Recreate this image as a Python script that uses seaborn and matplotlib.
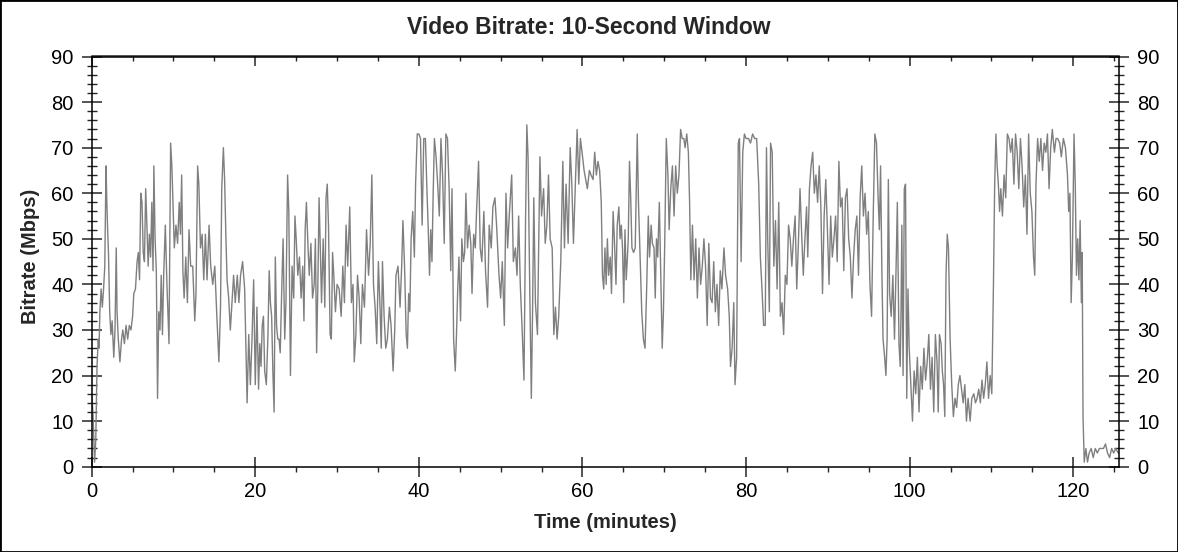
import numpy as np
import pandas as pd
import matplotlib
matplotlib.use("Agg")
import matplotlib.pyplot as plt
from matplotlib.patches import Rectangle
from matplotlib.ticker import MultipleLocator
import seaborn as sns

# ---- data: (minutes, Mbps), in blocks ----
minutes_a = [0.0, 0.15, 0.35, 0.5, 0.65, 0.8, 0.9, 1.0, 1.15, 1.3, 1.45, 1.6, 1.75, 1.85, 1.95, 2.05, 2.2, 2.35, 2.5, 2.7,
             2.85, 3.0, 3.1, 3.25, 3.45, 3.65, 3.8, 4.0, 4.2, 4.4, 4.6, 4.8, 5.0, 5.15, 5.35, 5.55, 5.7, 5.85, 6.0, 6.15,
             6.3, 6.45, 6.6, 6.75, 6.9, 7.05, 7.2, 7.35, 7.5, 7.6, 7.75, 7.9, 8.05, 8.2, 8.35, 8.5, 8.65, 8.8, 9.0, 9.2,
             9.45, 9.65, 9.8, 9.95, 10.1, 10.3, 10.5, 10.7, 10.85, 11.0, 11.15, 11.3, 11.5, 11.7, 11.9, 12.1, 12.35, 12.6, 12.75, 12.95,
             13.1, 13.3, 13.5, 13.7, 13.9, 14.1, 14.35, 14.55, 14.8, 15.05, 15.3, 15.55, 15.75, 15.9, 16.1, 16.25, 16.4, 16.55, 16.75, 16.95,
             17.15, 17.35, 17.55, 17.8, 18.0, 18.2, 18.45, 18.7, 19.0, 19.2, 19.4, 19.6, 19.8, 20.0]
mbps_a = [16, 12, 1, 6, 22, 28, 26, 34, 39, 35, 39, 44, 66, 58, 52, 47, 34, 29, 32, 24,
          30, 48, 34, 28, 23, 28, 30, 27, 31, 28, 31, 30, 33, 38, 39, 45, 47, 41, 60, 58,
          47, 45, 61, 53, 44, 51, 46, 58, 43, 66, 50, 43, 15, 34, 30, 42, 29, 42, 53, 40,
          27, 71, 66, 57, 48, 53, 49, 58, 51, 64, 43, 37, 46, 36, 52, 44, 44, 32, 38, 66,
          62, 48, 51, 41, 51, 41, 53, 44, 40, 44, 33, 23, 35, 61, 70, 63, 51, 41, 37, 30,
          36, 42, 36, 42, 36, 42, 45, 39, 14, 29, 18, 28, 41, 18]

minutes_b = [20.2, 20.4, 20.55, 20.7, 20.85, 21.0, 21.15, 21.35, 21.55, 21.7, 21.85, 22.0, 22.15, 22.3, 22.45, 22.6, 22.75, 22.9, 23.05, 23.25,
             23.4, 23.6, 23.75, 23.95, 24.1, 24.3, 24.5, 24.7, 24.85, 25.0, 25.2, 25.4, 25.6, 25.8, 25.95, 26.1, 26.25, 26.45, 26.6, 26.8,
             27.0, 27.2, 27.35, 27.5, 27.65, 27.8, 27.95, 28.1, 28.3, 28.5, 28.65, 28.8, 28.95, 29.15, 29.3, 29.45, 29.6, 29.8, 30.0, 30.25,
             30.5, 30.7, 30.9, 31.1, 31.3, 31.55, 31.75, 31.95, 32.1, 32.3, 32.5, 32.7, 32.9, 33.1, 33.35, 33.6, 33.85, 34.05, 34.25, 34.45,
             34.65, 34.85, 35.05, 35.25, 35.4, 35.55, 35.75, 35.95, 36.15, 36.4, 36.6, 36.85, 37.05, 37.2, 37.45, 37.7, 37.9, 38.05, 38.25, 38.45,
             38.6, 38.75, 38.9, 39.05, 39.25, 39.45, 39.6, 39.8, 40.0, 40.2, 40.4, 40.6, 40.8]
mbps_b = [35, 17, 27, 22, 31, 33, 21, 18, 29, 43, 36, 33, 21, 12, 46, 31, 28, 28, 25, 40,
          50, 28, 36, 64, 56, 20, 44, 37, 55, 50, 42, 46, 37, 44, 32, 52, 58, 48, 42, 49,
          37, 40, 50, 25, 40, 59, 48, 36, 50, 35, 59, 62, 53, 29, 28, 47, 42, 34, 40, 39,
          33, 44, 36, 53, 44, 57, 36, 40, 23, 29, 42, 37, 27, 40, 35, 52, 42, 49, 64, 40,
          35, 27, 45, 35, 26, 45, 33, 26, 28, 35, 31, 21, 30, 42, 44, 35, 44, 54, 44, 29,
          26, 38, 34, 50, 56, 46, 62, 73, 73, 72, 53, 72, 72]

minutes_c = [41.0, 41.15, 41.3, 41.45, 41.6, 41.75, 41.9, 42.1, 42.3, 42.5, 42.7, 42.9, 43.1, 43.3, 43.5, 43.7, 43.9, 44.05, 44.25, 44.45,
             44.6, 44.75, 44.9, 45.1, 45.25, 45.45, 45.6, 45.75, 45.95, 46.15, 46.35, 46.5, 46.7, 46.9, 47.05, 47.3, 47.5, 47.7, 47.95, 48.15,
             48.4, 48.6, 48.85, 49.05, 49.3, 49.5, 49.8, 50.0, 50.2, 50.45, 50.65, 50.85, 51.05, 51.35, 51.55, 51.8, 52.0, 52.2, 52.4, 52.65,
             52.85, 53.05, 53.2, 53.35, 53.55, 53.75, 53.9, 54.05, 54.25, 54.5, 54.8, 55.0, 55.25, 55.45, 55.65, 55.85, 56.05, 56.3, 56.5, 56.7,
             56.9, 57.1, 57.35, 57.6, 57.8, 58.0, 58.25, 58.5, 58.7, 58.9, 59.1, 59.35, 59.55, 59.75, 59.95, 60.2, 60.4, 60.6, 60.85, 61.05,
             61.3, 61.5, 61.7, 61.9, 62.1]
mbps_c = [60, 52, 42, 52, 45, 60, 72, 68, 62, 55, 72, 64, 49, 73, 72, 61, 43, 61, 28, 21,
          29, 39, 46, 32, 50, 45, 47, 60, 48, 53, 49, 38, 51, 48, 56, 67, 48, 45, 56, 43,
          35, 53, 48, 57, 59, 53, 42, 37, 45, 31, 60, 48, 55, 64, 45, 48, 42, 55, 40, 29,
          19, 55, 75, 68, 40, 15, 34, 59, 36, 29, 68, 55, 61, 49, 53, 64, 50, 48, 29, 35,
          28, 33, 45, 67, 48, 62, 49, 70, 62, 49, 60, 74, 62, 72, 69, 65, 63, 61, 65, 64,
          63, 69, 64, 67, 65]

minutes_d = [62.3, 62.45, 62.6, 62.75, 62.9, 63.05, 63.2, 63.4, 63.55, 63.75, 63.9, 64.1, 64.25, 64.45, 64.6, 64.75, 64.9, 65.05, 65.2, 65.35,
             65.5, 65.6, 65.75, 65.9, 66.05, 66.25, 66.45, 66.7, 66.85, 67.05, 67.25, 67.45, 67.65, 67.85, 68.05, 68.2, 68.4, 68.55, 68.75, 68.9,
             69.05, 69.2, 69.4, 69.6, 69.75, 69.9, 70.05, 70.25, 70.45, 70.6, 70.8, 71.0, 71.2, 71.4, 71.6, 71.8, 72.0, 72.2, 72.4, 72.55,
             72.75, 72.95, 73.1, 73.25, 73.45, 73.65, 73.85, 74.05, 74.25, 74.45, 74.65, 74.85, 75.05, 75.25, 75.45, 75.65, 75.85, 76.05, 76.25, 76.45,
             76.65, 76.85, 77.05, 77.3, 77.5, 77.75, 77.95, 78.1, 78.3, 78.5, 78.65, 78.85, 79.05, 79.2, 79.4, 79.6, 79.8, 80.0, 80.3, 80.55,
             80.8, 81.05, 81.3, 81.55, 81.75, 81.95, 82.15, 82.35, 82.5, 82.65, 82.85, 83.0, 83.2, 83.4]
mbps_d = [58, 42, 39, 48, 40, 50, 42, 46, 38, 56, 50, 40, 53, 57, 50, 53, 48, 36, 52, 41,
          46, 50, 67, 59, 48, 47, 48, 73, 58, 46, 34, 28, 26, 39, 55, 46, 53, 49, 48, 37,
          50, 46, 58, 40, 26, 34, 48, 72, 64, 52, 61, 66, 55, 66, 60, 64, 74, 72, 72, 70,
          73, 69, 58, 41, 53, 41, 50, 37, 48, 40, 44, 50, 44, 31, 49, 37, 36, 45, 34, 40,
          31, 43, 39, 48, 42, 39, 33, 22, 26, 36, 18, 24, 71, 72, 45, 69, 73, 72, 72, 71,
          73, 72, 72, 62, 46, 39, 31, 31, 70, 50, 34, 71, 69, 44]

minutes_e = [83.6, 83.8, 84.0, 84.2, 84.4, 84.6, 84.8, 85.0, 85.2, 85.4, 85.6, 85.8, 86.0, 86.2, 86.4, 86.6, 86.8, 87.0, 87.2, 87.4,
             87.55, 87.75, 87.95, 88.15, 88.35, 88.55, 88.75, 88.95, 89.15, 89.35, 89.55, 89.75, 89.95, 90.15, 90.35, 90.55, 90.75, 90.95, 91.15, 91.35,
             91.55, 91.75, 91.95, 92.15, 92.35, 92.55, 92.75, 92.95, 93.15, 93.35, 93.55, 93.75, 93.95, 94.15, 94.35, 94.55, 94.75, 94.95, 95.15, 95.35,
             95.55, 95.75, 95.95, 96.15, 96.3, 96.45, 96.6, 96.75, 96.95, 97.1, 97.25, 97.4, 97.55, 97.75, 97.95, 98.15, 98.35, 98.5, 98.7, 98.85,
             98.95, 99.05, 99.2, 99.35, 99.5, 99.65, 99.8, 99.95, 100.15, 100.35, 100.55, 100.75, 100.95, 101.15, 101.35, 101.55, 101.75, 101.95, 102.15, 102.35,
             102.55, 102.75, 102.95, 103.15, 103.35, 103.5, 103.65]
mbps_e = [54, 39, 58, 33, 36, 29, 42, 40, 53, 50, 44, 50, 55, 39, 49, 61, 51, 42, 50, 57,
          46, 61, 66, 69, 60, 64, 58, 66, 57, 38, 55, 63, 52, 40, 55, 46, 50, 55, 45, 67,
          57, 59, 43, 59, 61, 50, 46, 37, 46, 52, 55, 42, 59, 66, 55, 60, 51, 56, 40, 33,
          55, 73, 71, 59, 52, 66, 44, 28, 24, 20, 28, 63, 38, 33, 42, 28, 44, 58, 27, 22,
          34, 53, 20, 61, 62, 15, 39, 26, 18, 10, 21, 16, 24, 12, 22, 17, 26, 19, 23, 29,
          17, 24, 12, 29, 23, 12, 29]

minutes_f = [103.85, 104.0, 104.15, 104.3, 104.45, 104.6, 104.75, 104.95, 105.15, 105.35, 105.55, 105.75, 105.95, 106.15, 106.35, 106.55, 106.75, 106.95, 107.15, 107.4,
             107.6, 107.85, 108.05, 108.25, 108.45, 108.65, 108.85, 109.05, 109.25, 109.45, 109.65, 109.85, 110.05, 110.25, 110.4, 110.55, 110.7, 110.85, 111.0, 111.15,
             111.35, 111.55, 111.75, 111.95, 112.15, 112.35, 112.55, 112.75, 112.95, 113.15, 113.35, 113.55, 113.75, 113.95, 114.15, 114.35, 114.55, 114.75, 114.95, 115.15,
             115.3, 115.45, 115.65, 115.85, 116.05, 116.25, 116.45, 116.65, 116.85, 117.05, 117.25, 117.45, 117.7, 117.9, 118.1, 118.35, 118.55, 118.8, 119.05, 119.3,
             119.45, 119.6, 119.75, 119.9, 120.1, 120.25, 120.4, 120.55, 120.7, 120.85, 121.0, 121.1, 121.2, 121.35, 121.55, 121.75, 121.95, 122.2, 122.45, 122.7,
             122.95, 123.2, 123.45, 123.7, 123.95, 124.2, 124.45, 124.7, 124.95, 125.2, 125.5]
mbps_f = [27, 21, 18, 11, 42, 51, 48, 28, 18, 11, 15, 13, 18, 20, 17, 14, 18, 10, 15, 10,
          15, 16, 14, 15, 17, 14, 19, 15, 18, 23, 15, 20, 16, 40, 62, 73, 66, 62, 56, 61,
          55, 64, 59, 73, 72, 69, 72, 62, 73, 69, 61, 72, 66, 57, 64, 51, 73, 60, 56, 46,
          42, 62, 72, 67, 72, 65, 71, 69, 73, 61, 70, 74, 69, 72, 72, 71, 68, 72, 70, 64,
          56, 60, 36, 46, 73, 62, 42, 50, 41, 54, 36, 47, 11, 1, 4, 1, 3, 4, 2, 4,
          3, 4, 4, 4, 5, 3, 2, 4, 3, 4, 3]

df = pd.DataFrame({
    "minutes": minutes_a + minutes_b + minutes_c + minutes_d + minutes_e + minutes_f,
    "mbps": mbps_a + mbps_b + mbps_c + mbps_d + mbps_e + mbps_f,
})

title_text = "Video Bitrate: 10-Second Window"
x_label = "Time (minutes)"
y_label = "Bitrate (Mbps)"

# ---- style ----
sns.set_style("ticks")
plt.rcParams["font.family"] = ["Liberation Sans", "DejaVu Sans"]

W, H, DPI = 1178, 552, 100
fig = plt.figure(figsize=(W / DPI, H / DPI), dpi=DPI, facecolor="white")
L, R, B, T = 91.7, 1119, 466.7, 56.5
ax = fig.add_axes([L / W, 1 - B / H, (R - L) / W, (B - T) / H])

sns.lineplot(data=df, x="minutes", y="mbps", ax=ax, color="#7f7f7f",
             linewidth=1.0, sort=False, estimator=None)

ax.set_xlim(0, 125.6)
ax.set_ylim(0, 90)
ax.set_xlabel("")
ax.set_ylabel("")

for s in ax.spines.values():
    s.set_linewidth(1.1)
    s.set_color("black")

# y axis: both sides, crossing ticks
ax.yaxis.set_major_locator(MultipleLocator(10))
ax.yaxis.set_minor_locator(MultipleLocator(2))
ax.tick_params(axis="y", which="major", direction="inout", length=14, width=1.1,
               left=True, right=True, labelleft=True, labelright=True,
               labelsize=14.5, pad=6)
ax.tick_params(axis="y", which="minor", direction="inout", length=7, width=1.0,
               left=True, right=True)

# bottom x axis
ax.xaxis.set_major_locator(MultipleLocator(20))
ax.xaxis.set_minor_locator(MultipleLocator(5))
ax.tick_params(axis="x", which="major", direction="inout", length=14, width=1.1,
               bottom=True, top=False, labelsize=14.5, pad=4)
ax.tick_params(axis="x", which="minor", direction="out", length=3.5, width=1.0,
               bottom=True, top=False)

# top x axis: inward ticks, no labels
sec = ax.secondary_xaxis("top")
sec.xaxis.set_major_locator(MultipleLocator(20))
sec.xaxis.set_minor_locator(MultipleLocator(5))
sec.tick_params(axis="x", which="major", direction="in", length=7, width=1.1, labeltop=False)
sec.tick_params(axis="x", which="minor", direction="in", length=3.5, width=1.0)
sec.spines["top"].set_linewidth(1.1)

for lab in ax.get_xticklabels() + ax.get_yticklabels():
    lab.set_color("black")

fig.text(0.5, 1 - 27 / H, title_text, ha="center", va="center",
         fontsize=16.5, fontweight="bold")
fig.text((L + R) / 2 / W, 1 - 523 / H, x_label, ha="center", va="center",
         fontsize=14.5, fontweight="bold")
fig.text(30 / W, 1 - 256 / H, y_label, ha="center", va="center",
         rotation=90, fontsize=14.5, fontweight="bold")

fig.add_artist(Rectangle((0, 0), 1, 1, transform=fig.transFigure, fill=False,
                         edgecolor="black", linewidth=2))

fig.savefig("out.png", dpi=DPI, facecolor="white")
